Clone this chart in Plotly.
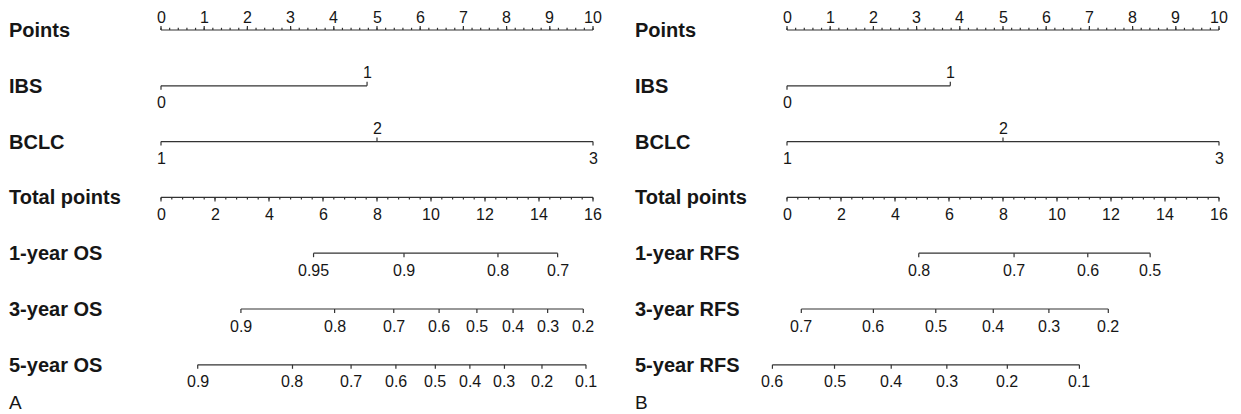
import plotly.graph_objects as go

W, H = 1241, 414

# ---- row names -------------------------------------------------------------
rows_A = ["Points", "IBS", "BCLC", "Total points", "1-year OS", "3-year OS", "5-year OS"]
rows_B = ["Points", "IBS", "BCLC", "Total points", "1-year RFS", "3-year RFS", "5-year RFS"]

# ---- scales ----------------------------------------------------------------
points_ticks = list(range(0, 11))          # labelled points ticks
points_minor_step = 0.2
total_ticks = list(range(0, 17, 2))        # labelled total-points ticks
total_minor_step = 0.4

# ---- predictor contributions (points) --------------------------------------
ibs_levels = ["0", "1"]
ibs_points_A = [0.0, 4.77]
ibs_points_B = [0.0, 3.78]
bclc_levels = ["1", "2", "3"]
bclc_points_A = [0.0, 5.0, 10.0]
bclc_points_B = [0.0, 5.0, 10.0]

# ---- survival probabilities vs total points --------------------------------
os1_labels = ["0.95", "0.9", "0.8", "0.7"]
os1_total = [5.65, 9.00, 12.48, 14.69]
os3_labels = ["0.9", "0.8", "0.7", "0.6", "0.5", "0.4", "0.3", "0.2"]
os3_total = [2.96, 6.43, 8.62, 10.30, 11.70, 13.04, 14.32, 15.64]
os5_labels = ["0.9", "0.8", "0.7", "0.6", "0.5", "0.4", "0.3", "0.2", "0.1"]
os5_total = [1.36, 4.87, 7.04, 8.70, 10.16, 11.44, 12.72, 14.11, 15.74]

rfs1_labels = ["0.8", "0.7", "0.6", "0.5"]
rfs1_total = [4.88, 8.41, 11.14, 13.45]
rfs3_labels = ["0.7", "0.6", "0.5", "0.4", "0.3", "0.2"]
rfs3_total = [0.53, 3.20, 5.51, 7.64, 9.70, 11.90]
rfs5_labels = ["0.6", "0.5", "0.4", "0.3", "0.2", "0.1"]
rfs5_total = [-0.54, 1.76, 3.86, 5.92, 8.16, 10.83]

# ---- styling ---------------------------------------------------------------
LINE_COLOR = "#333333"
TEXT_COLOR = "#161616"
FONT = "Liberation Sans, Arial, Helvetica, sans-serif"
TICK_FONT = dict(family=FONT, size=16, color=TEXT_COLOR)
ROW_FONT = dict(family=FONT, size=20, color=TEXT_COLOR)

ROW0_PX = 30.0        # pixel row of the Points axis
ROW_GAP_PX = 55.8     # vertical spacing between rows
MAJOR_PX = 4.0
MINOR_PX = 2.2
ABOVE_SHIFT = 13
BELOW_SHIFT = -17

fig = go.Figure()
annotations = []


def px_to_rows(p):
    return p / ROW_GAP_PX


def add_scale(xaxis, row, values, labels, ticks_up, minor=None):
    """Draw one horizontal scale: base line, ticks and tick labels."""
    ups = ticks_up if isinstance(ticks_up, list) else [ticks_up] * len(values)
    xs, ys = [], []
    lo, hi = min(values), max(values)
    xs += [lo, hi, None]
    ys += [row, row, None]
    if minor is not None:
        step, stop = minor
        n = int(round(stop / step))
        sgn = 1 if ticks_up else -1
        for k in range(n + 1):
            v = k * step
            xs += [v, v, None]
            ys += [row, row - sgn * px_to_rows(MINOR_PX), None]
    for v, up in zip(values, ups):
        sgn = 1 if up else -1
        xs += [v, v, None]
        ys += [row, row - sgn * px_to_rows(MAJOR_PX), None]
    fig.add_trace(go.Scatter(
        x=xs, y=ys, xaxis=xaxis, yaxis="y", mode="lines",
        line=dict(color=LINE_COLOR, width=1.2), hoverinfo="skip", showlegend=False,
    ))
    for v, lab, up in zip(values, labels, ups):
        annotations.append(dict(
            x=v, y=row, xref=xaxis, yref="y", text=lab, showarrow=False,
            xanchor="center", yanchor="middle",
            yshift=ABOVE_SHIFT if up else BELOW_SHIFT, font=TICK_FONT,
        ))


def alternating(n):
    # categorical levels: first label below, next above, ...
    return [bool(i % 2) for i in range(n)]


def build_panel(pts_axis, tot_axis, rows, ibs_pts, bclc_pts, surv, label_x_px, letter):
    # Points
    add_scale(pts_axis, 0, points_ticks, [str(v) for v in points_ticks], True,
              minor=(points_minor_step, max(points_ticks)))
    # IBS
    add_scale(pts_axis, 1, ibs_pts, ibs_levels, alternating(len(ibs_pts)))
    # BCLC
    add_scale(pts_axis, 2, bclc_pts, bclc_levels, alternating(len(bclc_pts)))
    # Total points
    add_scale(tot_axis, 3, total_ticks, [str(v) for v in total_ticks], False,
              minor=(total_minor_step, max(total_ticks)))
    # survival scales
    for i, (vals, labs) in enumerate(surv):
        add_scale(tot_axis, 4 + i, vals, labs, False)
    # row names
    for i, name in enumerate(rows):
        annotations.append(dict(
            x=label_x_px / W, y=i, xref="paper", yref="y",
            text="<b>" + name + "</b>", showarrow=False,
            xanchor="left", yanchor="middle", font=ROW_FONT,
        ))
    # panel letter, bottom-left
    annotations.append(dict(
        x=label_x_px / W, y=1 - 402.0 / H, xref="paper", yref="paper", text=letter,
        showarrow=False, xanchor="left", yanchor="middle",
        font=dict(family=FONT, size=19, color=TEXT_COLOR),
    ))


build_panel("x", "x2", rows_A, ibs_points_A, bclc_points_A,
            [(os1_total, os1_labels), (os3_total, os3_labels), (os5_total, os5_labels)],
            7, "A")
build_panel("x3", "x4", rows_B, ibs_points_B, bclc_points_B,
            [(rfs1_total, rfs1_labels), (rfs3_total, rfs3_labels), (rfs5_total, rfs5_labels)],
            633, "B")


def axis_pair(zero_px, ten_px, dom_lo_px, dom_hi_px):
    per = (ten_px - zero_px) / max(points_ticks)
    lo = (dom_lo_px - zero_px) / per
    hi = max(points_ticks) + (dom_hi_px - ten_px) / per
    k = max(total_ticks) / max(points_ticks)
    dom = [dom_lo_px / W, dom_hi_px / W]
    return dom, [lo, hi], [lo * k, hi * k]


domA, rngA_pts, rngA_tot = axis_pair(161, 593, 125, 612)
domB, rngB_pts, rngB_tot = axis_pair(787, 1219, 750, 1238)

hidden = dict(visible=False, showgrid=False, zeroline=False, fixedrange=True)

# y axis in row units, row 0 at ROW0_PX from the top
y_top = -ROW0_PX / ROW_GAP_PX
y_bot = (H - ROW0_PX) / ROW_GAP_PX

fig.update_layout(
    width=W, height=H,
    margin=dict(l=0, r=0, t=0, b=0),
    paper_bgcolor="white", plot_bgcolor="rgba(0,0,0,0)",
    xaxis=dict(domain=domA, range=rngA_pts, anchor="y", **hidden),
    xaxis2=dict(domain=domA, range=rngA_tot, anchor="y", overlaying="x", **hidden),
    xaxis3=dict(domain=domB, range=rngB_pts, anchor="y", **hidden),
    xaxis4=dict(domain=domB, range=rngB_tot, anchor="y", overlaying="x3", **hidden),
    yaxis=dict(domain=[0, 1], range=[y_bot, y_top], anchor="x", **hidden),
    annotations=annotations,
    showlegend=False,
)

fig.write_html("out.html")
